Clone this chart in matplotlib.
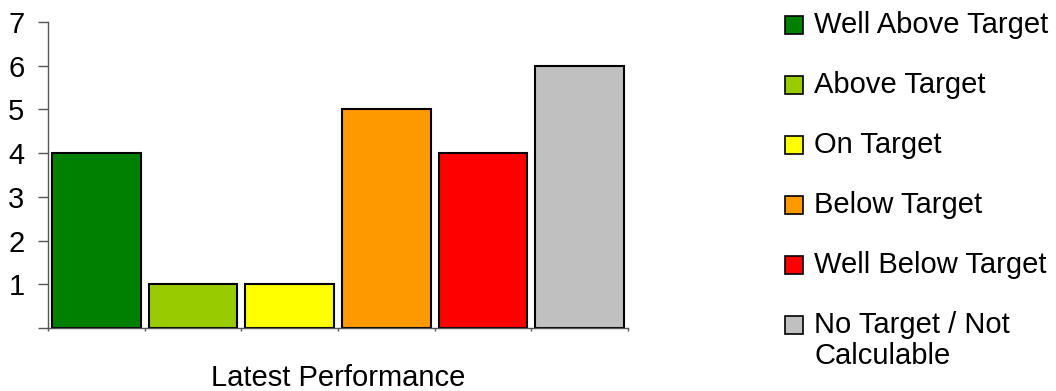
import matplotlib.pyplot as plt
from matplotlib.patches import Rectangle

# Performance categories and counts
categories = ["Well Above Target", "Above Target", "On Target",
              "Below Target", "Well Below Target", "No Target / Not\nCalculable"]
counts = [4, 1, 1, 5, 4, 6]
colors = ["#008000", "#99CC00", "#FFFF00", "#FF9900", "#FF0000", "#C0C0C0"]
y_ticks = [0, 1, 2, 3, 4, 5, 6, 7]
y_labels = ["", "1", "2", "3", "4", "5", "6", "7"]

plt.rcParams['font.family'] = ['Liberation Sans', 'DejaVu Sans']
FS = 21

W, H = 1056, 391
fig = plt.figure(figsize=(W / 100, H / 100), dpi=100)
ax = fig.add_axes([48 / W, 1 - 328 / H, 580 / W, 306 / H])

x = list(range(len(counts)))
ax.bar(x, counts, width=0.92, color=colors, edgecolor='black', linewidth=1.5)

ax.set_xlim(-0.5, len(counts) - 0.5)
ax.set_ylim(0, 7)
ax.set_yticks(y_ticks)
ax.set_yticklabels(y_labels, fontsize=FS)
ax.set_xticks([i - 0.5 for i in range(len(counts) + 1)])
ax.set_xticklabels([])
ax.tick_params(axis='y', direction='out', length=7, width=1, color='#555555', pad=10)
ax.tick_params(axis='x', direction='out', length=2.5, width=1, color='#555555')

for side in ['top', 'right']:
    ax.spines[side].set_visible(False)
for side in ['left', 'bottom']:
    ax.spines[side].set_color('#555555')
    ax.spines[side].set_linewidth(1)

# axis title under the plot
fig.text(338 / W, 1 - 378 / H, "Latest Performance", fontsize=FS,
         ha='center', va='center')

# legend drawn by hand so the swatch sits on the first line of wrapped labels
for i, (label, c) in enumerate(zip(categories, colors)):
    yc = 25 + 60 * i
    fig.add_artist(Rectangle((785 / W, 1 - (yc + 9) / H), 18 / W, 18 / H,
                             transform=fig.transFigure, facecolor=c,
                             edgecolor='black', linewidth=1.2))
    fig.text(814 / W, 1 - (yc - 14) / H, label, fontsize=FS, ha='left',
             va='top', linespacing=1.15)

fig.savefig("out.png", dpi=100)
